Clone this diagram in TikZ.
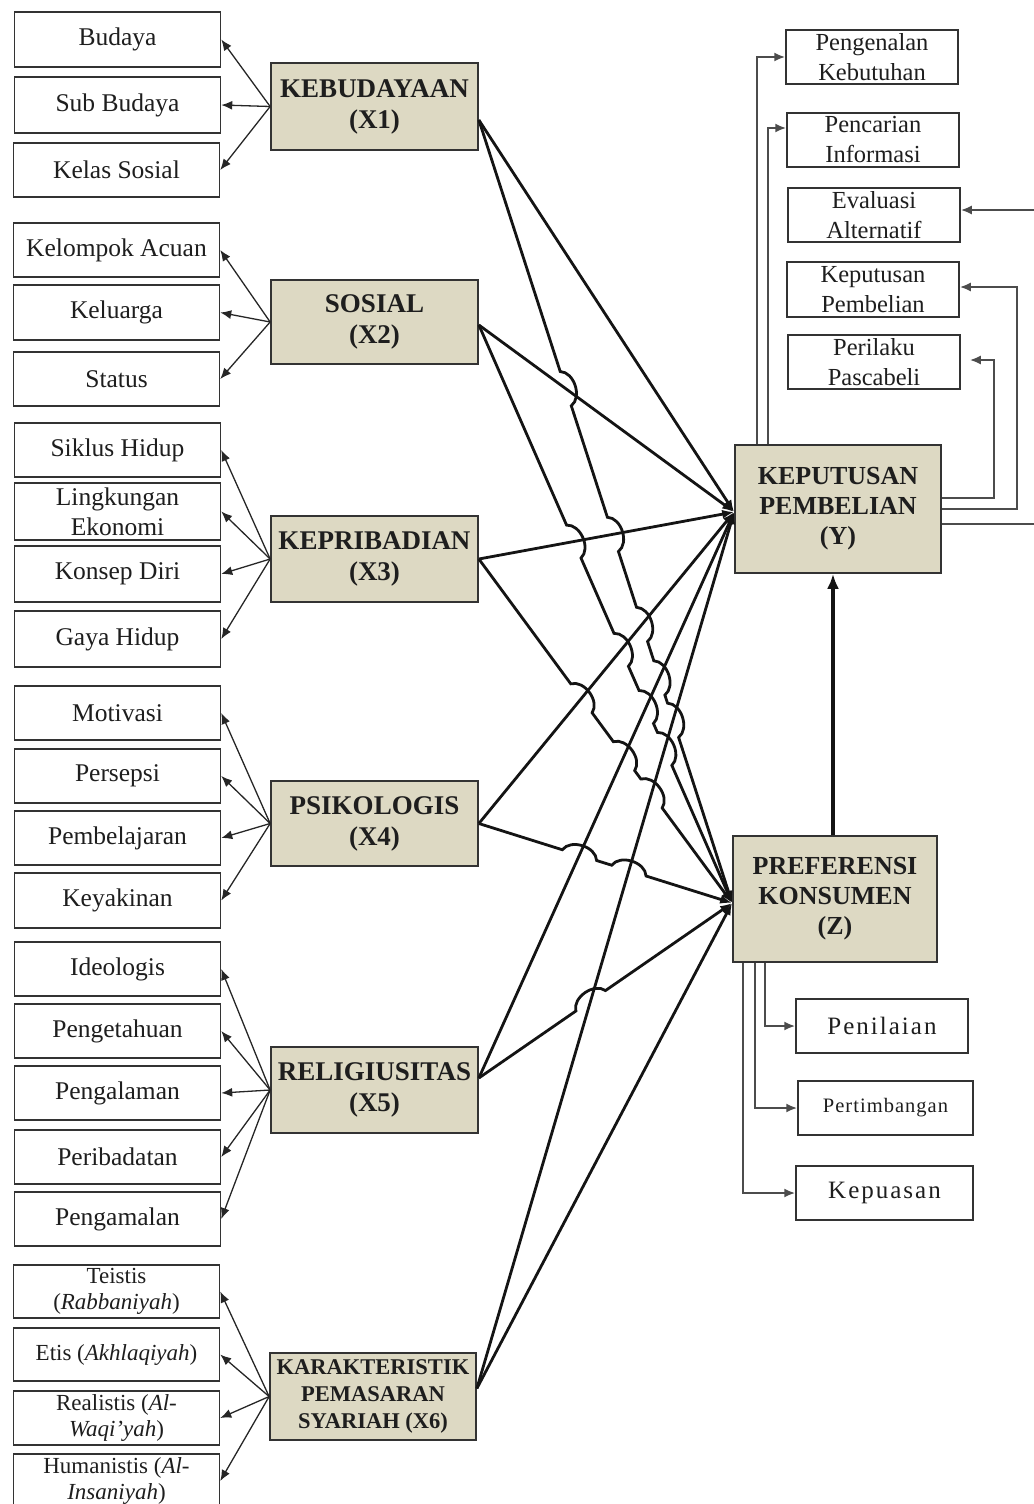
\documentclass[tikz,border=0pt]{standalone}
\usepackage{fontspec}
\setmainfont{Liberation Serif}
\usetikzlibrary{arrows.meta,calc}
\definecolor{boxtan}{HTML}{DDD9C3}
\definecolor{edgegray}{HTML}{333333}
\definecolor{txt}{HTML}{1E1E1E}
\begin{document}
\begin{tikzpicture}[x=1pt,y=-1pt,
  sbox/.style={draw=edgegray, line width=1.5pt, fill=white, minimum width=206pt, inner sep=0pt, align=center, text=txt, font=\fontsize{25.5}{30}\selectfont},
  tbox/.style={draw=edgegray, line width=1.5pt, fill=white, minimum width=172pt, minimum height=54pt, inner sep=0pt, align=center, text=txt, font=\fontsize{24.5}{30}\selectfont},
  mbox/.style={draw=edgegray, line width=1.7pt, fill=boxtan, minimum width=207pt, inner sep=0pt, align=center, text=txt, font=\bfseries\fontsize{27}{31}\selectfont},
  fanline/.style={line width=1.3pt, draw=black!85, -{Latex[length=11pt,width=9pt]}},
  mline/.style={line width=2.8pt, draw=black!92, -{Latex[length=12pt,width=9pt]}},
  sline/.style={line width=2pt, draw=black!70, -{Latex[length=11pt,width=9pt]}},
  hopto/.style={bend left=70},
]
\useasboundingbox (0,0) rectangle (1033,1504);

% ---------- left indicator boxes ----------
\node[sbox, minimum height=55pt] (b1) at (117.5,39.5) {Budaya};
\node[sbox, minimum height=56pt] (b2) at (117.5,105) {Sub Budaya};
\node[sbox, minimum height=54pt] (b3) at (116.5,170) {Kelas Sosial};

\node[sbox, minimum height=54pt] (s1) at (116.5,250) {Kelompok Acuan};
\node[sbox, minimum height=55pt] (s2) at (116.5,312.5) {Keluarga};
\node[sbox, minimum height=54pt] (s3) at (116.5,379) {Status};

\node[sbox, minimum height=54pt] (p1) at (117.5,450) {Siklus Hidup};
\node[sbox, minimum height=57pt] (p2) at (117.5,511.5) {Lingkungan\\Ekonomi};
\node[sbox, minimum height=56pt] (p3) at (117.5,574) {Konsep Diri};
\node[sbox, minimum height=56pt] (p4) at (117.5,639) {Gaya Hidup};

\node[sbox, minimum height=54pt] (k1) at (117.5,713) {Motivasi};
\node[sbox, minimum height=54pt] (k2) at (117.5,776) {Persepsi};
\node[sbox, minimum height=54pt] (k3) at (117.5,838) {Pembelajaran};
\node[sbox, minimum height=55pt] (k4) at (117.5,900.5) {Keyakinan};

\node[sbox, minimum height=54pt] (r1) at (117.5,969) {Ideologis};
\node[sbox, minimum height=54pt] (r2) at (117.5,1031) {Pengetahuan};
\node[sbox, minimum height=54pt] (r3) at (117.5,1093) {Pengalaman};
\node[sbox, minimum height=54pt] (r4) at (117.5,1157) {Peribadatan};
\node[sbox, minimum height=54pt] (r5) at (117.5,1219) {Pengamalan};

\node[sbox, minimum height=53pt, font=\fontsize{23}{26}\selectfont] (m1) at (116.5,1291.5) {Teistis\\(\textit{Rabbaniyah})};
\node[sbox, minimum height=53pt, font=\fontsize{23}{26}\selectfont] (m2) at (116.5,1354.5) {Etis (\textit{Akhlaqiyah})};
\node[sbox, minimum height=54pt, font=\fontsize{23}{26}\selectfont] (m3) at (116.5,1418) {Realistis (\textit{Al-}\\\textit{Waqi'yah})};
\node[sbox, minimum height=54pt, font=\fontsize{23}{26}\selectfont] (m4) at (116.5,1481) {Humanistis (\textit{Al-}\\\textit{Insaniyah})};

% ---------- main variable boxes ----------
\node[mbox, minimum height=87pt] (x1) at (374.5,106.5) {KEBUDAYAAN\\(X1)};
\node[mbox, minimum height=84pt] (x2) at (374.5,322) {SOSIAL\\(X2)};
\node[mbox, minimum height=86pt] (x3) at (374.5,559) {KEPRIBADIAN\\(X3)};
\node[mbox, minimum height=85pt] (x4) at (374.5,823.5) {PSIKOLOGIS\\(X4)};
\node[mbox, minimum height=86pt] (x5) at (374.5,1090) {RELIGIUSITAS\\(X5)};
\node[mbox, minimum height=87pt, minimum width=206pt, font=\bfseries\fontsize{22.5}{27}\selectfont] (x6) at (373,1396.5) {KARAKTERISTIK\\PEMASARAN\\SYARIAH (X6)};

\node[mbox, minimum width=206pt, minimum height=128pt, font=\bfseries\fontsize{26}{30}\selectfont] (y) at (838,509) {KEPUTUSAN\\PEMBELIAN\\(Y)};
\node[mbox, minimum width=204pt, minimum height=126pt, font=\bfseries\fontsize{26}{30}\selectfont] (z) at (835,899) {PREFERENSI\\KONSUMEN\\(Z)};

% ---------- right indicator boxes ----------
\node[tbox] (t1) at (872,57) {Pengenalan\\Kebutuhan};
\node[tbox] (t2) at (873,140) {Pencarian\\Informasi};
\node[tbox] (t3) at (874,215) {Evaluasi\\Alternatif};
\node[tbox, minimum height=55pt] (t4) at (873,289.5) {Keputusan\\Pembelian};
\node[tbox] (t5) at (874,362) {Perilaku\\Pascabeli};

\node[tbox, font=\fontsize{25}{29}\selectfont\addfontfeature{LetterSpace=8}] (z1) at (882,1026) {Penilaian};
\node[tbox, minimum width=175pt, font=\fontsize{20.5}{24}\selectfont\addfontfeature{LetterSpace=5}] (z2) at (885.5,1108) {Pertimbangan};
\node[tbox, minimum width=177pt, font=\fontsize{25}{29}\selectfont\addfontfeature{LetterSpace=8}] (z3) at (884.5,1193) {Kepuasan};

% ---------- fan arrows to indicators ----------
\foreach \t in {b1,b2,b3} \draw[fanline] (x1.west) -- (\t.east);
\foreach \t in {s1,s2,s3} \draw[fanline] (x2.west) -- (\t.east);
\foreach \t in {p1,p2,p3,p4} \draw[fanline] (x3.west) -- (\t.east);
\foreach \t in {k1,k2,k3,k4} \draw[fanline] (x4.west) -- (\t.east);
\foreach \t in {r1,r2,r3,r4,r5} \draw[fanline] (x5.west) -- (\t.east);
\foreach \t in {m1,m2,m3,m4} \draw[fanline] (x6.west) -- (\t.east);

% ---------- anchor points of the main paths ----------
\coordinate (a1) at ($(x1.east)+(0,13.5)$);
\coordinate (a2) at ($(x2.east)+(0,3)$);
\coordinate (a3) at (x3.east);
\coordinate (a4) at (x4.east);
\coordinate (a5) at ($(x5.east)+(0,-12)$);
\coordinate (a6) at ($(x6.east)+(0,-8)$);
\coordinate (yin) at ($(y.west)+(0,3)$);
\coordinate (zin) at ($(z.west)+(0,4)$);

\foreach \i/\j in {1/2,1/3,1/4,1/5,1/6,2/3,2/4,2/5,2/6,3/4,3/5,3/6,4/5,4/6,5/6}
  \coordinate (h\i\j) at (intersection cs: first line={(a\i)--(zin)}, second line={(a\j)--(yin)});

% ---------- paths to Y ----------
\foreach \i in {1,...,6} \draw[mline] (a\i) -- (yin);

% ---------- paths to Z (with hops over the paths to Y) ----------
\draw[mline] (a1)
  -- ($(h12)!18pt!(a1)$) to[hopto] ($(h12)!18pt!(zin)$)
  -- ($(h13)!18pt!(a1)$) to[hopto] ($(h13)!18pt!(zin)$)
  -- ($(h14)!18pt!(a1)$) to[hopto] ($(h14)!18pt!(zin)$)
  -- ($(h15)!18pt!(a1)$) to[hopto] ($(h15)!18pt!(zin)$)
  -- ($(h16)!18pt!(a1)$) to[hopto] ($(h16)!18pt!(zin)$)
  -- (zin);
\draw[mline] (a2)
  -- ($(h23)!18pt!(a2)$) to[hopto] ($(h23)!18pt!(zin)$)
  -- ($(h24)!18pt!(a2)$) to[hopto] ($(h24)!18pt!(zin)$)
  -- ($(h25)!18pt!(a2)$) to[hopto] ($(h25)!18pt!(zin)$)
  -- ($(h26)!18pt!(a2)$) to[hopto] ($(h26)!18pt!(zin)$)
  -- (zin);
\draw[mline] (a3)
  -- ($(h34)!18pt!(a3)$) to[hopto] ($(h34)!18pt!(zin)$)
  -- ($(h35)!18pt!(a3)$) to[hopto] ($(h35)!18pt!(zin)$)
  -- ($(h36)!18pt!(a3)$) to[hopto] ($(h36)!18pt!(zin)$)
  -- (zin);
\draw[mline] (a4)
  -- ($(h45)!18pt!(a4)$) to[hopto] ($(h45)!18pt!(zin)$)
  -- ($(h46)!18pt!(a4)$) to[hopto] ($(h46)!18pt!(zin)$)
  -- (zin);
\draw[mline] (a5)
  -- ($(h56)!18pt!(a5)$) to[hopto] ($(h56)!18pt!(zin)$)
  -- (zin);
\draw[mline] (a6) -- (zin);

% ---------- Z to Y ----------
\draw[line width=4.2pt, draw=black!92, -{Latex[length=15pt,width=12pt]}] ([xshift=-2pt]z.north) -- ([xshift=-2pt]z.north |- y.south);

% ---------- Y to decision-stage boxes ----------
\draw[sline] ([xshift=-81pt]y.north) |- (t1.west);
\draw[sline] ([xshift=-70pt]y.north) |- ([yshift=12pt]t2.west);
\draw[sline, shorten >=9pt] ([yshift=11pt]y.east) -- ++(52,0) |- ([yshift=2pt]t5.east);
\draw[sline] (y.east) -- ++(75,0) |- ([yshift=2.5pt]t4.east);
\draw[sline] ([yshift=-15pt]y.east) -- ++(110,0) |- ([yshift=5pt]t3.east);

% ---------- Z to its indicators ----------
\draw[sline] ([xshift=-70pt]z.south) |- (z1.west);
\draw[sline] ([xshift=-80pt]z.south) |- (z2.west);
\draw[sline] ([xshift=-92pt]z.south) |- (z3.west);
\end{tikzpicture}
\end{document}
